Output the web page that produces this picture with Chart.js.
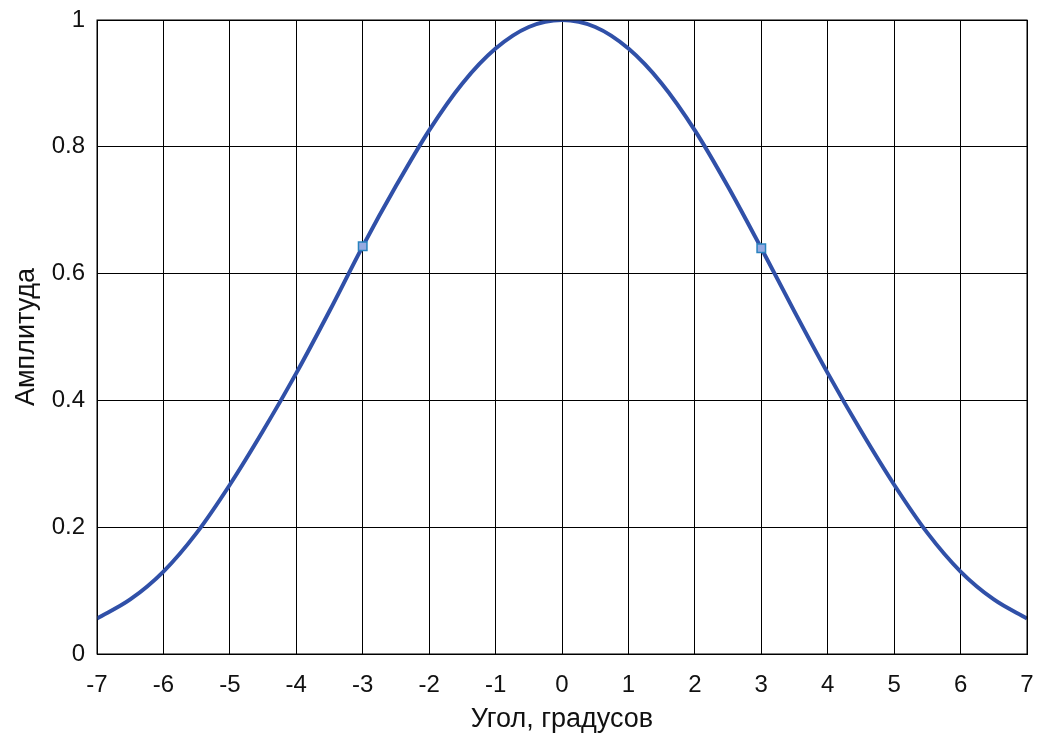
<!DOCTYPE html>
<html>
<head>
<meta charset="utf-8">
<script src="https://cdn.jsdelivr.net/npm/chart.js@4.4.0/dist/chart.umd.min.js"></script>
<style>
  html, body { margin: 0; padding: 0; background: #fff; }
  #wrap { width: 1037px; height: 742px; }
</style>
</head>
<body>
<div id="wrap"><canvas id="pattern"></canvas></div>
<script>
// Angle values (degrees) and amplitude
const angles = [-7, -6.5, -6, -5.5, -5, -4.5, -4, -3.5, -3, -2.5, -2, -1.5, -1, -0.5,
                0, 0.5, 1, 1.5, 2, 2.5, 3, 3.5, 4, 4.5, 5, 5.5, 6, 6.5, 7];
const amplitude = [0.056, 0.086, 0.130, 0.191, 0.267, 0.352, 0.443, 0.541, 0.643, 0.738, 0.826, 0.900, 0.955, 0.989,
                   1.0, 0.989, 0.955, 0.900, 0.826, 0.737, 0.640, 0.540, 0.443, 0.352, 0.267, 0.191, 0.130, 0.086, 0.056];
// Marked points
const markAngles = [-3, 3];
const markValues = [0.643, 0.640];

const yTickLabels = ['0', '0.2', '0.4', '0.6', '0.8', '1'];
const xTitle = 'Угол, градусов';
const yTitle = 'Амплитуда';

const family = "'Liberation Sans', Arial, sans-serif";
const tickFont = { family: family, size: 24 };
const titleFont = { family: family, size: 27 };

const ctx = document.getElementById('pattern').getContext('2d');
new Chart(ctx, {
    type: 'scatter',
    data: {
        datasets: [{
            data: angles.map((a, i) => ({ x: a, y: amplitude[i] })),
            showLine: true,
            borderColor: 'rgb(48, 80, 168)',
            borderWidth: 4,
            pointRadius: 0,
            cubicInterpolationMode: 'monotone',
            order: 2
        }, {
            data: markAngles.map((a, i) => ({ x: a, y: markValues[i] })),
            pointStyle: 'rect',
            pointRadius: 6,
            backgroundColor: 'rgb(150, 170, 225)',
            borderColor: 'rgb(40, 130, 190)',
            borderWidth: 1.5,
            order: 1
        }]
    },
    options: {
        responsive: true,
        maintainAspectRatio: false,
        animation: false,
        layout: { padding: { top: 20, right: 10, left: 0, bottom: 0 } },
        plugins: { legend: { display: false }, tooltip: { enabled: false } },
        scales: {
            x: {
                type: 'linear',
                min: -7, max: 7,
                border: { color: '#000', width: 1 },
                grid: { color: '#000', lineWidth: 1, drawTicks: false },
                ticks: { stepSize: 1, color: '#111', font: tickFont, padding: 17, maxRotation: 0 },
                title: { display: true, text: xTitle, color: '#111', font: titleFont, padding: { top: 0, bottom: 6 } },
                afterFit: (s) => { s.height = 88; s.paddingLeft = 0; s.paddingRight = 0; }
            },
            y: {
                min: 0, max: 1,
                border: { color: '#000', width: 1 },
                grid: { color: '#000', lineWidth: 1, drawTicks: false },
                ticks: {
                    stepSize: 0.2, color: '#111', font: tickFont, padding: 12,
                    callback: (v, i) => yTickLabels[i]
                },
                title: { display: true, text: yTitle, color: '#111', font: titleFont, padding: { top: 10, bottom: 0 } },
                afterFit: (s) => { s.width = 97; s.paddingTop = 0; s.paddingBottom = 0; }
            }
        }
    },
    plugins: [{
        id: 'frame',
        afterDraw(chart) {
            const a = chart.chartArea, c = chart.ctx;
            c.save();
            c.strokeStyle = '#000';
            c.lineWidth = 1;
            c.strokeRect(a.left, a.top, a.right - a.left, a.bottom - a.top);
            c.restore();
        }
    }]
});
</script>
</body>
</html>
